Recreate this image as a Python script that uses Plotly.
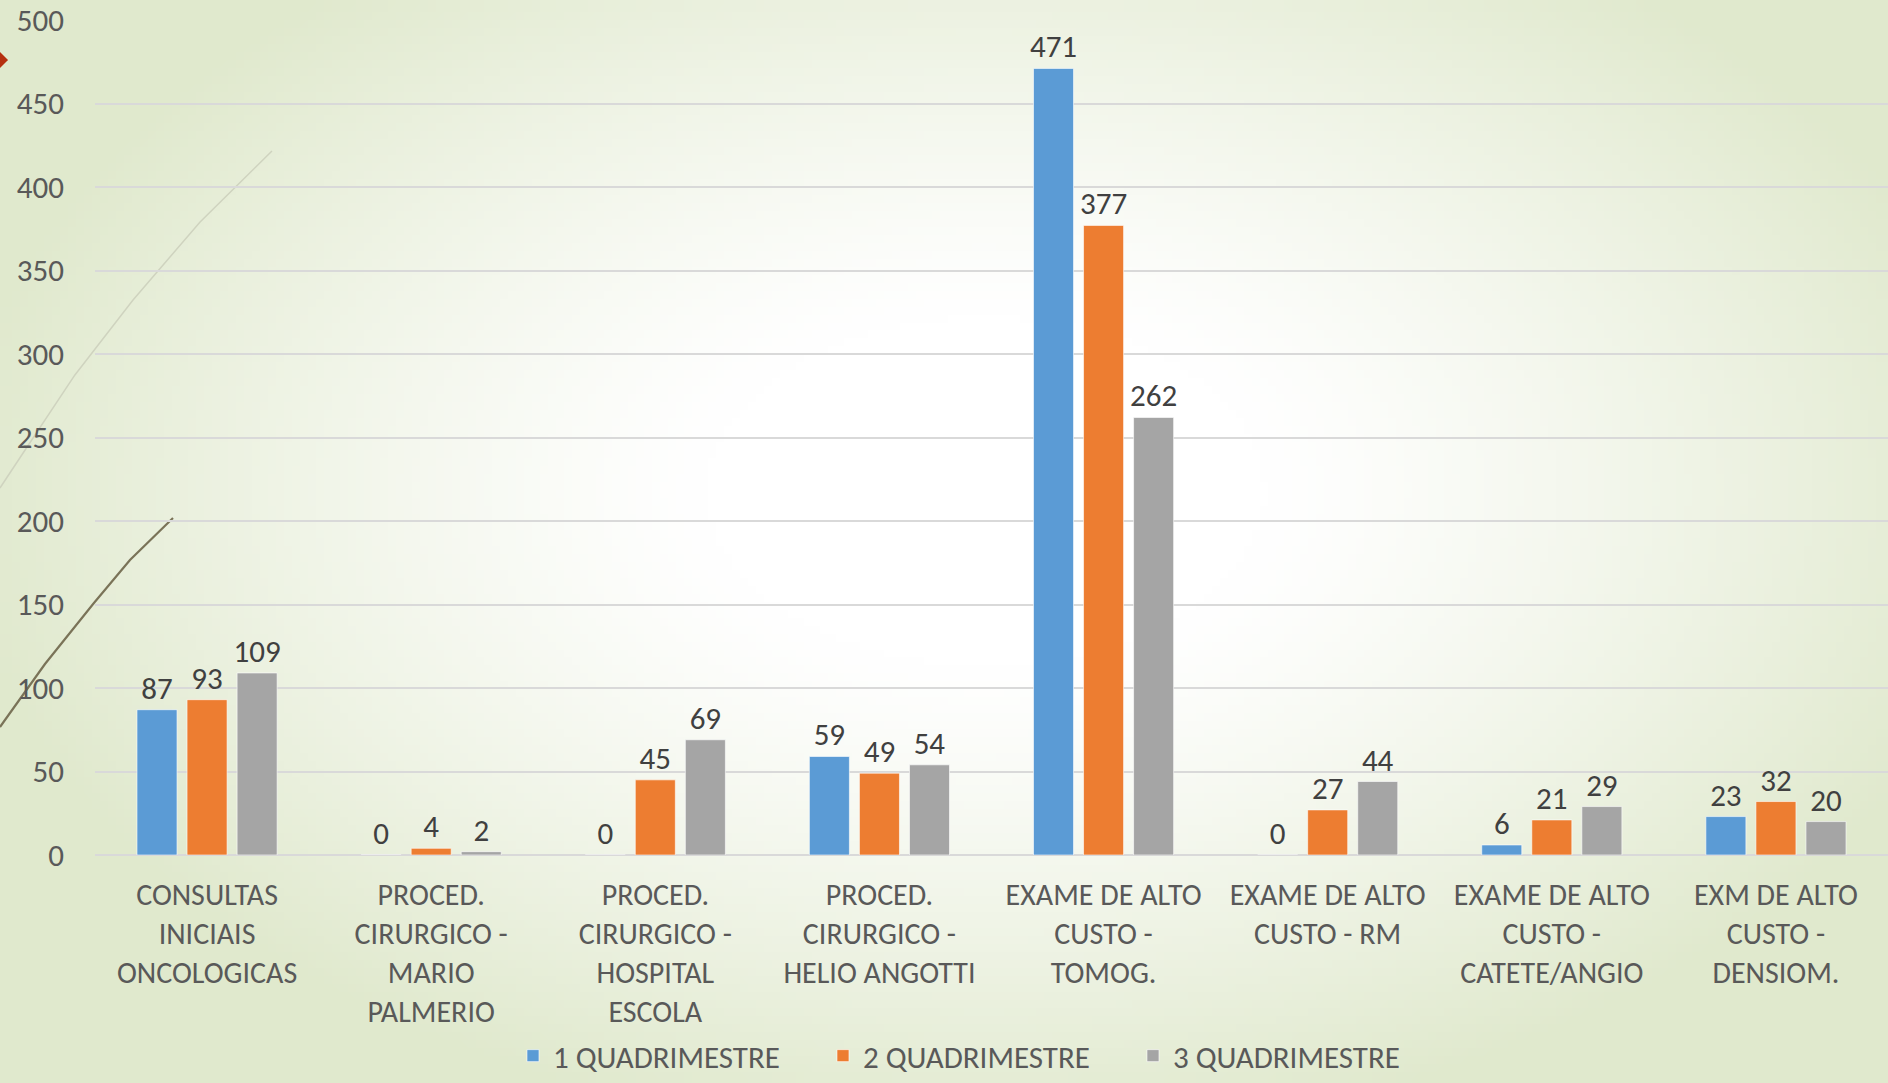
import base64
import struct
import zlib

import numpy as np
import plotly.graph_objects as go

categories = [
    "CONSULTAS<br>INICIAIS<br>ONCOLOGICAS",
    "PROCED.<br>CIRURGICO -<br>MARIO<br>PALMERIO",
    "PROCED.<br>CIRURGICO -<br>HOSPITAL<br>ESCOLA",
    "PROCED.<br>CIRURGICO -<br>HELIO ANGOTTI",
    "EXAME DE ALTO<br>CUSTO -<br>TOMOG.",
    "EXAME DE ALTO<br>CUSTO - RM",
    "EXAME DE ALTO<br>CUSTO -<br>CATETE/ANGIO",
    "EXM DE ALTO<br>CUSTO -<br>DENSIOM.",
]
q1 = [87, 0, 0, 59, 471, 0, 6, 23]
q2 = [93, 4, 45, 49, 377, 27, 21, 32]
q3 = [109, 2, 69, 54, 262, 44, 29, 20]
series_names = ["1 QUADRIMESTRE", "2 QUADRIMESTRE", "3 QUADRIMESTRE"]
series_colors = ["#5b9bd5", "#ed7d31", "#a5a5a5"]

W, H = 1888, 1083
L, R, T, B = 95, 0, 20, 228
FONT = "Carlito, Lato, sans-serif"


def gradient_png():
    # soft radial background like the slide theme
    w, h = 236, 136
    yy, xx = np.mgrid[0:h, 0:w]
    d = np.sqrt(((xx / w - 0.52) / 0.5) ** 2 + ((yy / h - 0.45) / 0.55) ** 2)
    t = np.clip((d - 0.3) / 0.8, 0, 1) ** 1.2
    edge = np.array([224, 233, 205])
    white = np.array([255, 255, 255])
    img = (white + (edge - white) * t[..., None]).astype(np.uint8)
    raw = b"".join(b"\x00" + row.tobytes() for row in img)

    def chunk(tag, data):
        c = tag + data
        return struct.pack(">I", len(data)) + c + struct.pack(">I", zlib.crc32(c) & 0xFFFFFFFF)

    png = b"\x89PNG\r\n\x1a\n"
    png += chunk(b"IHDR", struct.pack(">IIBBBBB", w, h, 8, 2, 0, 0, 0))
    png += chunk(b"IDAT", zlib.compress(raw, 9))
    png += chunk(b"IEND", b"")
    return "data:image/png;base64," + base64.b64encode(png).decode()


pw, ph = W - L - R, H - T - B


def px(x):
    return (x - L) / pw


def py(y):
    return (H - B - y) / ph


def path(points, close=False):
    s = "M " + " L ".join(f"{px(x):.4f},{py(y):.4f}" for x, y in points)
    return s + (" Z" if close else "")


fig = go.Figure()
for name, vals, color in zip(series_names, [q1, q2, q3], series_colors):
    fig.add_trace(go.Bar(
        x=categories,
        y=vals,
        name=name,
        marker=dict(color=color, line=dict(color="rgba(255,255,255,0.6)", width=1)),
        text=vals,
        textposition="outside",
        constraintext="none",
        cliponaxis=False,
        textfont=dict(family=FONT, size=31, color="#404040"),
    ))

fig.update_layout(
    width=W,
    height=H,
    margin=dict(l=L, r=R, t=T, b=B),
    paper_bgcolor="#e9efdc",
    plot_bgcolor="rgba(0,0,0,0)",
    barmode="group",
    bargap=0.33,
    bargroupgap=0.2,
    font=dict(family=FONT, size=31, color="#595959"),
    showlegend=True,
    legend=dict(
        orientation="h",
        xref="container", yref="container",
        x=0.518, xanchor="center",
        y=0.0, yanchor="bottom",
        entrywidth=265,
        itemwidth=30,
        font=dict(family=FONT, size=31, color="#595959"),
        bgcolor="rgba(0,0,0,0)",
    ),
    images=[dict(
        source=gradient_png(),
        xref="paper", yref="paper",
        x=px(0), y=py(0),
        sizex=W / pw, sizey=H / ph,
        xanchor="left", yanchor="top",
        sizing="stretch",
        layer="below",
    )],
    shapes=[
        dict(type="path", xref="paper", yref="paper",
             path=path([(272, 151), (200, 222), (133, 300), (75, 375), (25, 450), (0, 488)]),
             line=dict(color="#cfd3bf", width=1.5), layer="below"),
        dict(type="path", xref="paper", yref="paper",
             path=path([(173, 518), (130, 560), (94, 603), (45, 664), (0, 727)]),
             line=dict(color="#7a7358", width=2.2), layer="below"),
        dict(type="path", xref="paper", yref="paper",
             path=path([(0, 52), (8, 60), (0, 68)], close=True),
             fillcolor="#b5300f", line=dict(width=0)),
    ],
)
fig.update_yaxes(
    range=[0, 500],
    dtick=50,
    showgrid=True,
    gridcolor="#d9d9d9",
    gridwidth=1.5,
    zeroline=True,
    zerolinecolor="#d9d9d9",
    zerolinewidth=1.5,
    showline=False,
    ticks="",
    ticklabelstandoff=30,
    tickfont=dict(family=FONT, size=31, color="#595959"),
)
fig.update_xaxes(
    showline=False,
    ticks="",
    ticklabelstandoff=19,
    tickfont=dict(family=FONT, size=30, color="#595959"),
)

fig.write_html(
    "out.html",
    config={"displayModeBar": False},
    post_script="document.body.style.margin='0';document.body.style.overflow='hidden';",
)
